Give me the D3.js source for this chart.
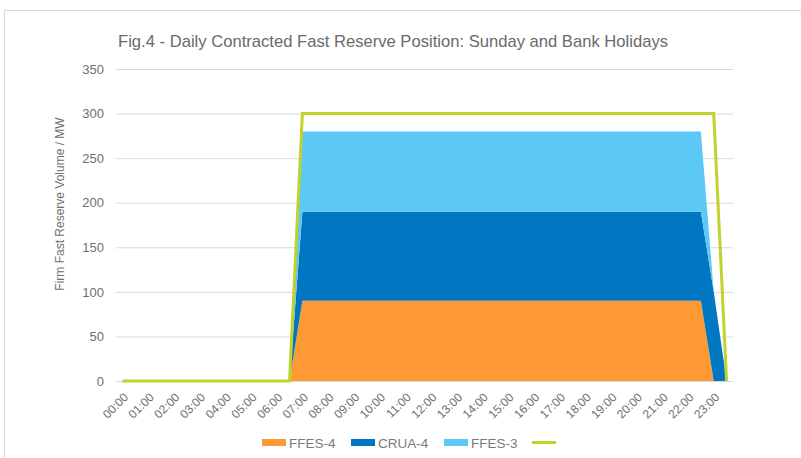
<!DOCTYPE html>
<html>
<head>
<meta charset="utf-8">
<script src="https://cdn.jsdelivr.net/npm/d3@7"></script>
<style>
  body { margin: 0; background: #fff; }
  text { font-family: 'Liberation Sans', Arial, sans-serif; fill: #6f6f6f; }
</style>
</head>
<body>
<div id="chart"></div>
<script>
// half-hour slots, labels shown on the hour
var times = ['00:00','00:30','01:00','01:30','02:00','02:30','03:00','03:30','04:00','04:30',
             '05:00','05:30','06:00','06:30','07:00','07:30','08:00','08:30','09:00','09:30',
             '10:00','10:30','11:00','11:30','12:00','12:30','13:00','13:30','14:00','14:30',
             '15:00','15:30','16:00','16:30','17:00','17:30','18:00','18:30','19:00','19:30',
             '20:00','20:30','21:00','21:30','22:00','22:30','23:00','23:30']
var hourLabels = ['00:00','01:00','02:00','03:00','04:00','05:00','06:00','07:00','08:00','09:00',
                  '10:00','11:00','12:00','13:00','14:00','15:00','16:00','17:00','18:00','19:00',
                  '20:00','21:00','22:00','23:00']
var yTicks = [0, 50, 100, 150, 200, 250, 300, 350]

var ffes4 = [0,0,0,0,0,0,0,0,0,0,0,0,0,0,90,90,90,90,90,90,90,90,90,90,90,90,90,90,90,90,
             90,90,90,90,90,90,90,90,90,90,90,90,90,90,90,90,0,0]
var crua4 = [0,0,0,0,0,0,0,0,0,0,0,0,0,0,100,100,100,100,100,100,100,100,100,100,100,100,100,100,100,100,
             100,100,100,100,100,100,100,100,100,100,100,100,100,100,100,100,100,0]
var ffes3 = [0,0,0,0,0,0,0,0,0,0,0,0,0,0,90,90,90,90,90,90,90,90,90,90,90,90,90,90,90,90,
             90,90,90,90,90,90,90,90,90,90,90,90,90,90,90,90,0,0]
var requirement = [0,0,0,0,0,0,0,0,0,0,0,0,0,0,300,300,300,300,300,300,300,300,300,300,300,300,300,300,300,300,
                   300,300,300,300,300,300,300,300,300,300,300,300,300,300,300,300,300,0]

var seriesNames = ['FFES-4', 'CRUA-4', 'FFES-3']
var colors = { 'FFES-4': '#ff9933', 'CRUA-4': '#0077c0', 'FFES-3': '#5bc8f5' }
var lineColor = '#c2d22b'

var width = 801, height = 458
var plot = { left: 116, right: 733, top: 69, bottom: 381 }

var table = times.map(function(t, i) {
  return { time: t, 'FFES-4': ffes4[i], 'CRUA-4': crua4[i], 'FFES-3': ffes3[i] }
})

var svg = d3.select('#chart').append('svg')
            .attr('width', width)
            .attr('height', height)

// chart frame
svg.append('rect')
   .attr('x', 4.5).attr('y', 10.5)
   .attr('width', 820).attr('height', 460)
   .attr('fill', 'none')
   .attr('stroke', '#d9d9d9')

svg.append('text')
   .attr('x', 118).attr('y', 47)
   .attr('textLength', 550)
   .attr('lengthAdjust', 'spacingAndGlyphs')
   .style('font-size', '17px')
   .style('fill', '#6a6a6a')
   .text('Fig.4 - Daily Contracted Fast Reserve Position: Sunday and Bank Holidays')

var x = d3.scalePoint()
          .domain(times)
          .range([plot.left, plot.right])
          .padding(0.5)

var y = d3.scaleLinear()
          .domain([0, 350])
          .range([plot.bottom, plot.top])

// gridlines
svg.append('g')
   .selectAll('line')
   .data(yTicks)
   .enter().append('line')
   .attr('x1', plot.left).attr('x2', plot.right)
   .attr('y1', function(d) { return y(d) + 0.5 })
   .attr('y2', function(d) { return y(d) + 0.5 })
   .attr('stroke', '#d9d9d9')

// y axis labels
var yAxis = svg.append('g')
               .attr('transform', 'translate(104,0)')
               .call(d3.axisLeft(y).tickValues(yTicks).tickSize(0).tickPadding(0))
yAxis.select('.domain').remove()
yAxis.selectAll('text')
     .style('font-size', '13px')
     .style('font-family', "'Liberation Sans', Arial, sans-serif")
     .attr('fill', '#6f6f6f')

svg.append('text')
   .attr('transform', 'translate(64,204) rotate(-90)')
   .attr('text-anchor', 'middle')
   .style('font-size', '12px')
   .text('Firm Fast Reserve Volume / MW')

// stacked areas
var stack = d3.stack().keys(seriesNames)
var area = d3.area()
             .x(function(d) { return x(d.data.time) })
             .y0(function(d) { return y(d[0]) })
             .y1(function(d) { return y(d[1]) })

svg.append('g')
   .selectAll('path')
   .data(stack(table))
   .enter().append('path')
   .attr('d', area)
   .attr('fill', function(d) { return colors[d.key] })

// requirement line
var line = d3.line()
             .x(function(d, i) { return x(times[i]) })
             .y(function(d) { return y(d) })

svg.append('path')
   .datum(requirement)
   .attr('d', line)
   .attr('fill', 'none')
   .attr('stroke', lineColor)
   .attr('stroke-width', 3)

// x axis labels
var xAxis = svg.append('g')
               .attr('transform', 'translate(0,' + plot.bottom + ')')
               .call(d3.axisBottom(x).tickValues(hourLabels).tickSize(0))
xAxis.select('.domain').remove()
xAxis.selectAll('text')
     .style('font-size', '12px')
     .style('font-family', "'Liberation Sans', Arial, sans-serif")
     .attr('fill', '#7a7a7a')
     .attr('text-anchor', 'end')
     .attr('y', 0).attr('dy', '0.35em')
     .attr('transform', 'translate(3,14) rotate(-45)')

// legend
var legendItems = [
  { name: 'FFES-4', x: 262 },
  { name: 'CRUA-4', x: 351 },
  { name: 'FFES-3', x: 444 }
]
var legend = svg.append('g')
legend.selectAll('rect')
      .data(legendItems)
      .enter().append('rect')
      .attr('x', function(d) { return d.x })
      .attr('y', 439)
      .attr('width', 24).attr('height', 7)
      .attr('fill', function(d) { return colors[d.name] })
legend.selectAll('text')
      .data(legendItems)
      .enter().append('text')
      .attr('x', function(d) { return d.x + 27 })
      .attr('y', 447.5)
      .style('font-size', '13.5px')
      .style('fill', '#7a7a7a')
      .text(function(d) { return d.name })
legend.append('line')
      .attr('x1', 532).attr('x2', 556)
      .attr('y1', 442.5).attr('y2', 442.5)
      .attr('stroke', lineColor)
      .attr('stroke-width', 3)
</script>
</body>
</html>
